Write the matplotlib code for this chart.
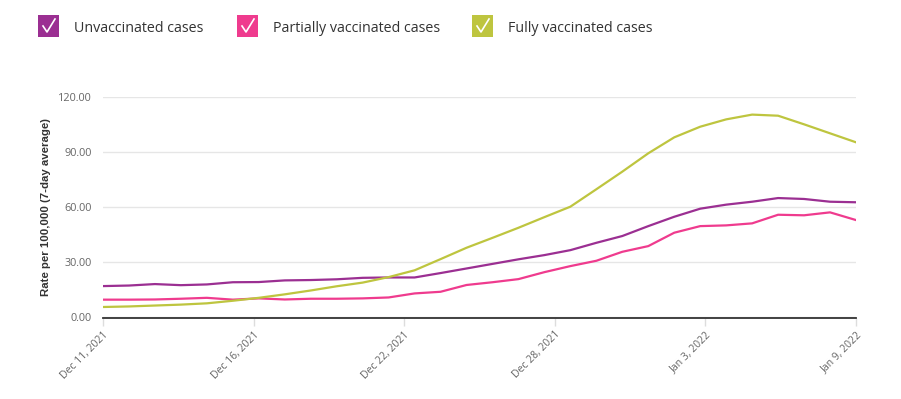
import datetime as dt
import numpy as np
import matplotlib
matplotlib.use("Agg")
import matplotlib.pyplot as plt
import matplotlib.dates as mdates
from matplotlib.ticker import FuncFormatter
from matplotlib.patches import Rectangle
from matplotlib.lines import Line2D

# --- data (rate per 100,000, 7-day average) ---
start = dt.date(2021, 12, 11)
dates = [start + dt.timedelta(days=i) for i in range(30)]

unvaccinated = [16.9, 17.2, 18.0, 17.4, 17.8, 19.0, 19.1, 20.0, 20.2, 20.6,
                21.4, 21.6, 21.6, 24.0, 26.5, 29.0, 31.5, 33.8, 36.5, 40.5,
                44.2, 49.6, 54.7, 59.1, 61.3, 62.9, 64.9, 64.4, 62.9, 62.6]
partially = [9.5, 9.5, 9.6, 10.0, 10.5, 9.5, 10.2, 9.6, 10.0, 10.0,
             10.2, 10.7, 12.9, 13.8, 17.5, 19.0, 20.7, 24.5, 27.8, 30.7,
             35.6, 38.7, 46.0, 49.6, 50.0, 51.1, 55.8, 55.5, 57.1, 52.9]
fully = [5.5, 5.8, 6.3, 6.8, 7.5, 8.9, 10.5, 12.4, 14.5, 16.8,
         18.8, 21.8, 25.5, 31.6, 37.8, 43.2, 48.7, 54.5, 60.2, 69.7,
         79.3, 89.3, 98.0, 103.8, 107.8, 110.4, 109.8, 105.1, 100.2, 95.3]

series_names = ["Unvaccinated cases", "Partially vaccinated cases", "Fully vaccinated cases"]
colors = ["#9b2f92", "#ef3b8e", "#bec53f"]
yticks = [0, 30, 60, 90, 120]

W, H = 901, 399
fig = plt.figure(figsize=(W / 100, H / 100), dpi=100)
fig.patch.set_facecolor("white")

def fx(px):
    return px / W

def fy(py):
    return 1 - py / H

ax = fig.add_axes([fx(103), fy(318), fx(856) - fx(103), fy(97) - fy(318)])

x = mdates.date2num(dates)
for vals, c in zip([unvaccinated, partially, fully], colors):
    ax.plot(x, vals, color=c, lw=1.6, solid_joinstyle="round", zorder=3)

ax.set_xlim(x[0], x[-1])
ax.set_ylim(-0.5, 120)
ax.set_yticks(yticks)
ax.yaxis.set_major_formatter(FuncFormatter(lambda v, p: f"{v:.2f}"))
ax.grid(axis="y", color="#e6e6e6", lw=1)
ax.set_axisbelow(True)

# x ticks evenly spaced, labels show the day they fall on
ax.set_xticks(np.linspace(x[0], x[-1], 6))

def date_fmt(v, p):
    d = mdates.num2date(v)
    return f"{d:%b} {d.day}, {d.year}"

ax.xaxis.set_major_formatter(FuncFormatter(date_fmt))

for s in ["top", "right", "left"]:
    ax.spines[s].set_visible(False)
ax.spines["bottom"].set_color("#333333")
ax.spines["bottom"].set_linewidth(1.3)

ax.tick_params(axis="y", length=0, pad=8, labelsize=7.8, labelcolor="#666666")
ax.tick_params(axis="x", length=6, width=1, color="#dddddd", pad=2,
               labelsize=7.5, labelcolor="#666666")
for lab in ax.get_yticklabels() + ax.get_xticklabels():
    lab.set_fontfamily("Open Sans")
for lab in ax.get_xticklabels():
    lab.set_rotation(45)
    lab.set_ha("right")
    lab.set_rotation_mode("anchor")

ax.set_ylabel("Rate per 100,000 (7-day average)", fontsize=8.2, fontweight="bold",
              family="Liberation Sans", color="#333333", labelpad=5)

# legend with check boxes
box_x = [38, 237, 472]
for bx, name, c in zip(box_x, series_names, colors):
    fig.patches.append(Rectangle((fx(bx), fy(37)), fx(21), fy(15) - fy(37),
                                 transform=fig.transFigure, facecolor=c,
                                 edgecolor="none"))
    fig.lines.append(Line2D([fx(bx + 5), fx(bx + 9), fx(bx + 17)],
                            [fy(26), fy(32), fy(19)],
                            transform=fig.transFigure, color="white", lw=1.2))
    fig.text(fx(bx + 36), fy(28.5), name, fontsize=10.3, family="Open Sans",
             color="#333333", va="center", ha="left")

fig.savefig("out.png", dpi=100, facecolor="white")
